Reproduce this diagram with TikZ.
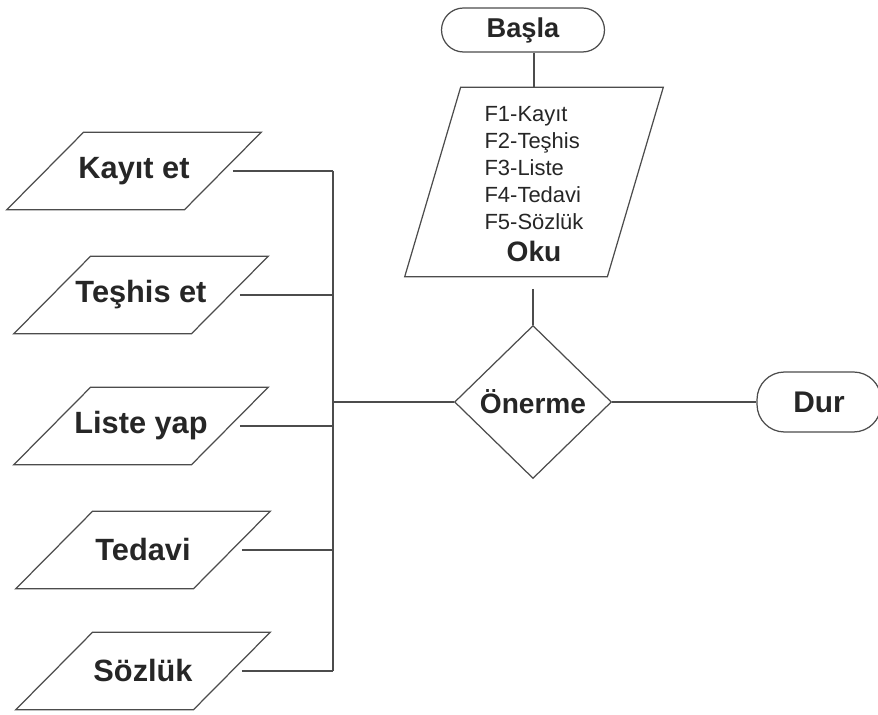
\documentclass[tikz,border=0pt]{standalone}
\usepackage{fontspec}
\setmainfont{Liberation Sans}
\usetikzlibrary{positioning, calc, shapes.geometric}

\begin{document}
\begin{tikzpicture}[
    x=0.02cm, y=-0.02cm,
    iobox/.style={rectangle, minimum width=3.54cm, minimum height=1.54cm, inner sep=0pt,
        font=\fontsize{17.5}{20}\selectfont\bfseries, text=black!85},
    readbox/.style={rectangle, minimum width=4.04cm, minimum height=3.78cm, inner sep=0pt,
        align=center, text=black!85},
    term/.style={rectangle, rounded corners=0.44cm, draw=black!70, line width=0.7pt,
        font=\fontsize{15.5}{18}\selectfont\bfseries, text=black!85},
    decision/.style={diamond, draw=black!70, line width=0.7pt, inner sep=0pt,
        minimum width=3.14cm, minimum height=3.06cm,
        font=\fontsize{16}{18}\selectfont\bfseries, text=black!85},
    outline/.style={draw=black!70, line width=0.7pt},
    line/.style={draw=black!70, line width=0.8pt}
]
    \useasboundingbox (0,0) rectangle (878,715);

    % Start and stop
    \node[term, minimum width=3.26cm, minimum height=0.88cm] (Basla) at (523,30) {Başla};
    \node[term, minimum width=2.48cm, minimum height=1.2cm, rounded corners=0.55cm,
        font=\fontsize{17}{20}\selectfont\bfseries] (Dur) at (819,402) {Dur};

    % Read box
    \node[readbox] (Oku) at (534,182) {%
        {\fontsize{12.5}{15.4}\selectfont\begin{tabular}{@{}l@{}}
            F1-Kayıt\\ F2-Teşhis\\ F3-Liste\\ F4-Tedavi\\ F5-Sözlük
        \end{tabular}}\\[1pt]
        {\fontsize{16}{18}\selectfont\bfseries Oku}};
    \draw[outline] ([xshift=-0.56cm]Oku.south west) -- ([xshift=-0.56cm]Oku.south east)
        -- ([xshift=0.56cm]Oku.north east) -- ([xshift=0.56cm]Oku.north west) -- cycle;

    % Decision
    \node[decision] (Dec) at (533,402) {Önerme};

    % Function boxes
    \foreach \name/\txt/\px/\py in {K/Kayıt et/134/171, T/Teşhis et/141/295,
        L/Liste yap/141/426, E/Tedavi/143/550, S/Sözlük/143/671} {
        \node[iobox] (\name) at (\px,\py) {\txt};
        \draw[outline] ([xshift=-0.77cm]\name.south west) -- ([xshift=-0.77cm]\name.south east)
            -- ([xshift=0.77cm]\name.north east) -- ([xshift=0.77cm]\name.north west) -- cycle;
    }

    % Connections
    \coordinate (bus) at (333,402);
    \draw[line] (Basla.south -| Oku.north) -- (Oku.north);
    \draw[line, shorten <=0.24cm] (Dec.north |- Oku.south) -- (Dec.north);
    \draw[line] (Dec.east) -- (Dur.west);
    \draw[line] (Dec.west) -- (bus);
    \foreach \name in {K,T,L,E,S} {
        \draw[line, shorten <=0.2cm] (\name.east) -- (\name.east -| bus);
    }
    \draw[line] (K.east -| bus) -- (S.east -| bus);

\end{tikzpicture}
\end{document}
